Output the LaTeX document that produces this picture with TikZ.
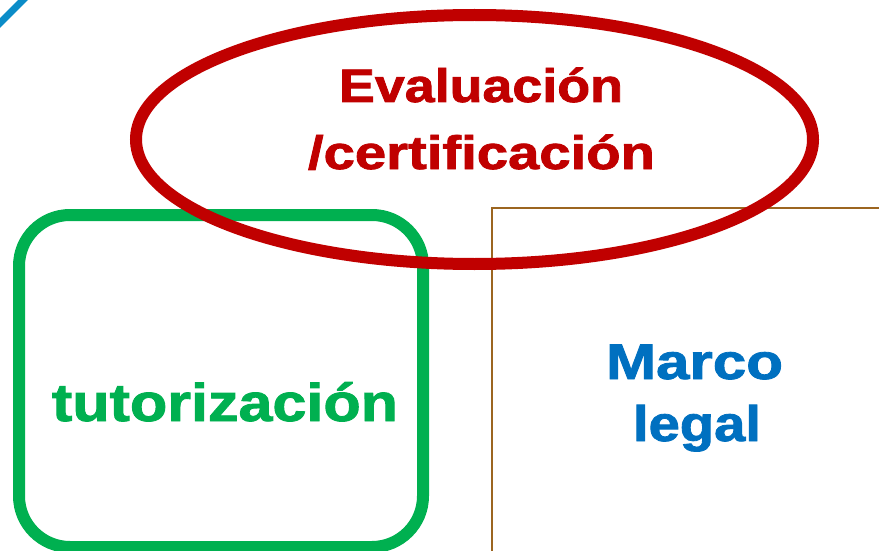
\documentclass[tikz,border=0pt]{standalone}
\usepackage{fontspec}
\setmainfont{Liberation Sans}
\newfontfamily\heavyfont[BoldFeatures={FakeBold=1.6}]{Liberation Sans}
\usepackage{graphicx}
\definecolor{evalred}{HTML}{C00000}
\definecolor{tutgreen}{HTML}{00B050}
\definecolor{legalblue}{HTML}{0070C0}
\definecolor{framebrown}{HTML}{9C6520}
\definecolor{cornerblue}{HTML}{0B8CC8}
\tikzset{
  lbl/.style={anchor=base, inner sep=0pt, font=\heavyfont\bfseries},
}
\begin{document}
\begin{tikzpicture}[x=1pt,y=-1pt]
\useasboundingbox (0,0) rectangle (879,551);
\clip (0,0) rectangle (879,551);
% corner blue stroke
\draw[cornerblue, line width=7pt] (-6,29) -- (28,-5);
% green rounded box
\draw[tutgreen, line width=12pt, rounded corners=51pt] (19,215) rectangle (423,547);
% brown frame
\draw[framebrown, line width=2pt] (890,208) -- (492,208) -- (492,560);
% red ellipse
\draw[evalred, line width=12pt] (474.5,139.5) ellipse [x radius=338.5, y radius=124.5];
% texts
\node[lbl, text=evalred] (evalA) at (481,102) {\fontsize{47}{56}\selectfont\resizebox{284pt}{\height}{Evaluación}};
\node[lbl, text=evalred] (evalB) at (481.5,169) {\fontsize{47}{56}\selectfont\resizebox{347pt}{\height}{/certificación}};
\node[lbl, text=tutgreen] (tut) at (225,421) {\fontsize{53}{60}\selectfont\resizebox{346pt}{\height}{tutorización}};
\node[lbl, text=legalblue] (marco) at (694.5,379) {\fontsize{50}{60}\selectfont\resizebox{177pt}{\height}{Marco}};
\node[lbl, text=legalblue] (legal) at (697,441) {\fontsize{50}{60}\selectfont\resizebox{128pt}{\height}{legal}};
\end{tikzpicture}
\end{document}
